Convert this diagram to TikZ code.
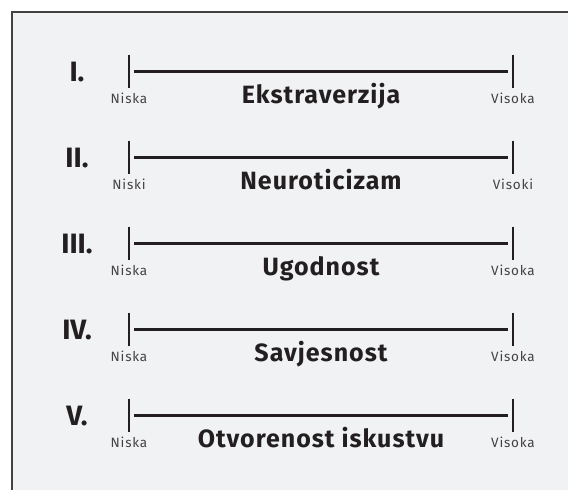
\documentclass[tikz,border=0pt]{standalone}
\usepackage{fontspec}
\setmainfont{Fira Sans}
\definecolor{panelbg}{HTML}{F1F2F4}
\definecolor{ink}{HTML}{231F20}
\tikzset{
  numeral/.style={font=\bfseries\fontsize{28}{30}\selectfont, text=ink, anchor=base, inner sep=0},
  trait/.style={font=\bfseries\fontsize{25}{28}\selectfont\addfontfeature{LetterSpace=4}, text=ink, anchor=base, inner sep=0},
  endlabel/.style={font=\fontsize{13.5}{15}\selectfont\addfontfeature{LetterSpace=6}, text=ink!85, anchor=base, inner sep=0},
  tick/.style={minimum height=33pt, minimum width=0pt, inner sep=0, outer sep=0},
  scaleline/.style={line width=3pt, ink},
  tickline/.style={line width=1.3pt, ink}
}

\begin{document}
\begin{tikzpicture}[x=1pt, y=-1pt]
\useasboundingbox (0,0) rectangle (568,490);
\fill[panelbg] (12,12) rectangle (568,490);
\draw[line width=2pt, ink!85] (12,490) -- (12,12) -- (568,12);

% I
\node[numeral] (num1) at (77,81) {I.};
\node[tick] (l1) at (129,71) {};
\node[tick] (r1) at (513,71) {};
\draw[tickline] (l1.north) -- (l1.south);
\draw[tickline] (r1.north) -- (r1.south);
\draw[scaleline] ([xshift=5pt]l1.center) -- ([xshift=-5pt]r1.center);
\node[endlabel] (lo1) at (129,103) {Niska};
\node[endlabel] (hi1) at (513,103) {Visoka};
\node[trait] (t1) at (321,103) {Ekstraverzija};

% II
\node[numeral] (num2) at (77,167) {II.};
\node[tick] (l2) at (129,157) {};
\node[tick] (r2) at (513,157) {};
\draw[tickline] (l2.north) -- (l2.south);
\draw[tickline] (r2.north) -- (r2.south);
\draw[scaleline] ([xshift=5pt]l2.center) -- ([xshift=-5pt]r2.center);
\node[endlabel] (lo2) at (129,189) {Niski};
\node[endlabel] (hi2) at (513,189) {Visoki};
\node[trait] (t2) at (321,189) {Neuroticizam};

% III
\node[numeral] (num3) at (77,253) {III.};
\node[tick] (l3) at (129,243) {};
\node[tick] (r3) at (513,243) {};
\draw[tickline] (l3.north) -- (l3.south);
\draw[tickline] (r3.north) -- (r3.south);
\draw[scaleline] ([xshift=5pt]l3.center) -- ([xshift=-5pt]r3.center);
\node[endlabel] (lo3) at (129,275) {Niska};
\node[endlabel] (hi3) at (513,275) {Visoka};
\node[trait] (t3) at (321,275) {Ugodnost};

% IV
\node[numeral] (num4) at (77,339) {IV.};
\node[tick] (l4) at (129,329) {};
\node[tick] (r4) at (513,329) {};
\draw[tickline] (l4.north) -- (l4.south);
\draw[tickline] (r4.north) -- (r4.south);
\draw[scaleline] ([xshift=5pt]l4.center) -- ([xshift=-5pt]r4.center);
\node[endlabel] (lo4) at (129,361) {Niska};
\node[endlabel] (hi4) at (513,361) {Visoka};
\node[trait] (t4) at (321,361) {Savjesnost};

% V
\node[numeral] (num5) at (77,425) {V.};
\node[tick] (l5) at (129,415) {};
\node[tick] (r5) at (513,415) {};
\draw[tickline] (l5.north) -- (l5.south);
\draw[tickline] (r5.north) -- (r5.south);
\draw[scaleline] ([xshift=5pt]l5.center) -- ([xshift=-5pt]r5.center);
\node[endlabel] (lo5) at (129,447) {Niska};
\node[endlabel] (hi5) at (513,447) {Visoka};
\node[trait] (t5) at (321,447) {Otvorenost iskustvu};
\end{tikzpicture}
\end{document}
